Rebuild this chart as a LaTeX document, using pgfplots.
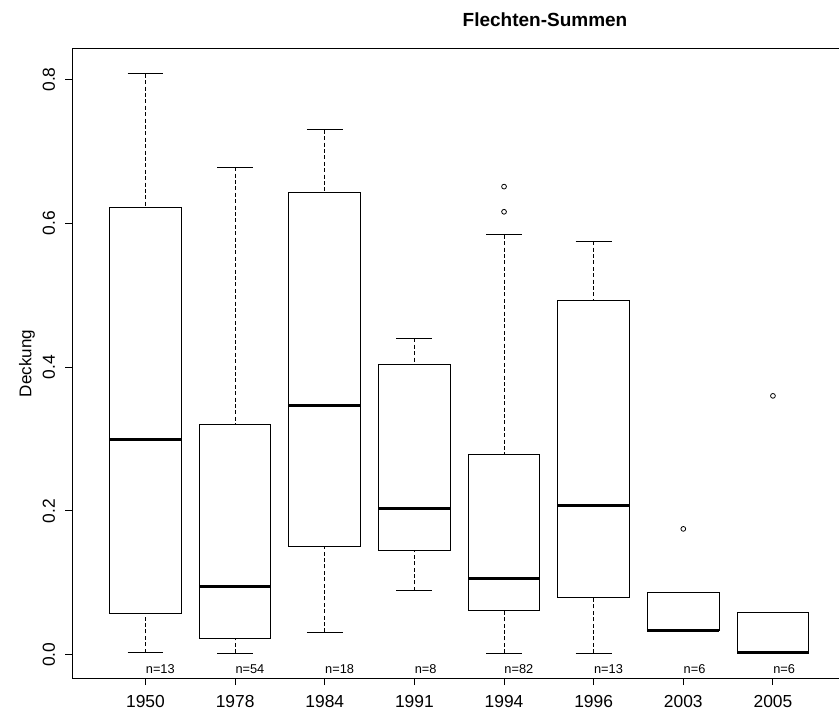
\documentclass[border=0pt]{standalone}
\usepackage{fontspec}
\setmainfont{Liberation Sans}
\usepackage{pgfplots}
\pgfplotsset{compat=1.18}
\usepgfplotslibrary{statistics}

\pgfplotsset{
  boxplot/draw direction=y,
  boxplot/box extend=0.8,
  boxplot/whisker extend=0.4,
  boxplot/every box/.style={draw=black, line width=0.5pt},
  boxplot/every median/.style={draw=black, line width=1.5pt},
  boxplot/draw/lower whisker/.code={%
    \draw[black, line width=0.5pt, dash pattern=on 2pt off 1.2pt]
      (boxplot cs:\pgfplotsboxplotvalue{lower whisker}) -- (boxplot cs:\pgfplotsboxplotvalue{lower quartile});
    \draw[black, line width=0.5pt]
      (boxplot whisker cs:\pgfplotsboxplotvalue{lower whisker},0) -- (boxplot whisker cs:\pgfplotsboxplotvalue{lower whisker},1);
  },
  boxplot/draw/upper whisker/.code={%
    \draw[black, line width=0.5pt, dash pattern=on 2pt off 1.2pt]
      (boxplot cs:\pgfplotsboxplotvalue{upper whisker}) -- (boxplot cs:\pgfplotsboxplotvalue{upper quartile});
    \draw[black, line width=0.5pt]
      (boxplot whisker cs:\pgfplotsboxplotvalue{upper whisker},0) -- (boxplot whisker cs:\pgfplotsboxplotvalue{upper whisker},1);
  },
}

\begin{document}
\begin{tikzpicture}
\path[use as bounding box] (-36pt,-15.5pt) rectangle (383.5pt,339pt);
\begin{axis}[
  at={(0,0)}, anchor=south west,
  scale only axis,
  width=383.5pt, height=314.5pt,
  xmin=0.18, xmax=8.737,
  ymin=-0.0324, ymax=0.8424,
  axis x line*=box, axis y line*=left,
  axis line style={black, line width=0.5pt},
  tick style={black, line width=0.5pt},
  tick align=outside,
  major tick length=3.5pt,
  xtick pos=left,
  xtick={1,2,3,4,5,6,7,8},
  xticklabels={1950,1978,1984,1991,1994,1996,2003,2005},
  ytick={0,0.2,0.4,0.6,0.8},
  /pgf/number format/assume math mode=true,
  ticklabel style={font=\fontsize{8.7}{10}\selectfont},
  yticklabel style={/pgf/number format/.cd, fixed, fixed zerofill, precision=1, /tikz/.cd, rotate=90, anchor=south},
  yticklabel shift=1.5pt,
  xticklabel shift=1.5pt,
  clip=false,
]
% 1950
\addplot[black, boxplot prepared={draw position=1, lower whisker=0.003, lower quartile=0.058, median=0.300, upper quartile=0.622, upper whisker=0.808}] coordinates {};
% 1978
\addplot[black, boxplot prepared={draw position=2, lower whisker=0.002, lower quartile=0.022, median=0.095, upper quartile=0.320, upper whisker=0.678}] coordinates {};
% 1984
\addplot[black, boxplot prepared={draw position=3, lower whisker=0.031, lower quartile=0.150, median=0.347, upper quartile=0.643, upper whisker=0.730}] coordinates {};
% 1991
\addplot[black, boxplot prepared={draw position=4, lower whisker=0.089, lower quartile=0.145, median=0.204, upper quartile=0.404, upper whisker=0.440}] coordinates {};
% 1994
\addplot[black, mark=o, mark size=1.2pt, mark options={line width=0.4pt}, boxplot prepared={draw position=5, lower whisker=0.002, lower quartile=0.061, median=0.106, upper quartile=0.279, upper whisker=0.584}] coordinates {(0,0.616) (0,0.651)};
% 1996
\addplot[black, boxplot prepared={draw position=6, lower whisker=0.002, lower quartile=0.080, median=0.208, upper quartile=0.493, upper whisker=0.575}] coordinates {};
% 2003
\addplot[black, mark=o, mark size=1.2pt, mark options={line width=0.4pt}, boxplot prepared={draw position=7, lower whisker=0.033, lower quartile=0.033, median=0.033, upper quartile=0.087, upper whisker=0.087}] coordinates {(0,0.175)};
% 2005
\addplot[black, mark=o, mark size=1.2pt, mark options={line width=0.4pt}, boxplot prepared={draw position=8, lower whisker=0.003, lower quartile=0.003, median=0.003, upper quartile=0.059, upper whisker=0.059}] coordinates {(0,0.360)};

\begin{scope}[every node/.style={anchor=base west, inner sep=0pt, font=\fontsize{6.4}{7}\selectfont}]
\node at (axis cs:1,-0.0264) {n=13};
\node at (axis cs:2,-0.0264) {n=54};
\node at (axis cs:3,-0.0264) {n=18};
\node at (axis cs:4,-0.0264) {n=8};
\node at (axis cs:5,-0.0264) {n=82};
\node at (axis cs:6,-0.0264) {n=13};
\node at (axis cs:7,-0.0264) {n=6};
\node at (axis cs:8,-0.0264) {n=6};
\end{scope}
\end{axis}
\node[rotate=90, font=\fontsize{8.5}{10}\selectfont] at (-22.5pt,157.25pt) {Deckung};
\node[font=\bfseries\fontsize{9.5}{11}\selectfont] at (236.5pt,329pt) {Flechten-Summen};
\end{tikzpicture}
\end{document}
